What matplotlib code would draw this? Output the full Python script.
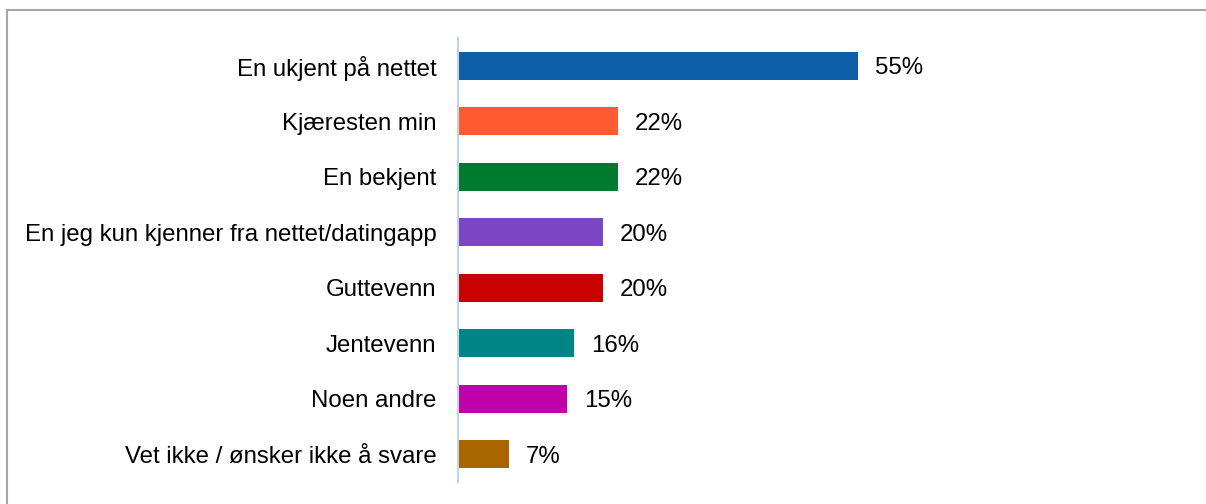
import matplotlib.pyplot as plt
from matplotlib.lines import Line2D

plt.rcParams['font.family'] = ['Liberation Sans', 'DejaVu Sans']

# data
categories = ['En ukjent på nettet', 'Kjæresten min', 'En bekjent',
              'En jeg kun kjenner fra nettet/datingapp', 'Guttevenn',
              'Jentevenn', 'Noen andre', 'Vet ikke / ønsker ikke å svare']
values = [55, 22, 22, 20, 20, 16, 15, 7]
colors = ['#0E5EA6', '#FF5B30', '#007A2F', '#7B46C3', '#C80000',
          '#008586', '#C000A8', '#A86500']

W, H = 1206, 504
fig = plt.figure(figsize=(W / 100, H / 100), dpi=100)
ax = fig.add_axes([458 / W, 1 - 482 / H, 727 / W, 444 / H])

y = list(range(len(categories)))
bars = ax.barh(y, values, height=0.5, color=colors)
ax.set_ylim(len(categories) - 0.5, -0.5)
ax.set_xlim(0, 100)

# value labels
for bar, v in zip(bars, values):
    ax.text(bar.get_width() + 2.3, bar.get_y() + bar.get_height() / 2,
            f'{v}%', va='center_baseline', ha='left', fontsize=17.3)

ax.set_yticks(y)
ax.set_yticklabels(categories, fontsize=17.3)
ax.tick_params(axis='y', length=0, pad=15.5)
ax.set_xticks([])
for s in ['top', 'right', 'bottom']:
    ax.spines[s].set_visible(False)
ax.spines['left'].set_color('#C5D3E6')
ax.spines['left'].set_linewidth(1.5)

# frame around the chart (top and left edges)
fig.add_artist(Line2D([6.5 / W, 6.5 / W], [1 - 9.5 / H, 0], color='#A6A6A6', lw=1.5))
fig.add_artist(Line2D([6.5 / W, 1], [1 - 9.5 / H, 1 - 9.5 / H], color='#A6A6A6', lw=1.5))

fig.savefig('out.png', dpi=100)
